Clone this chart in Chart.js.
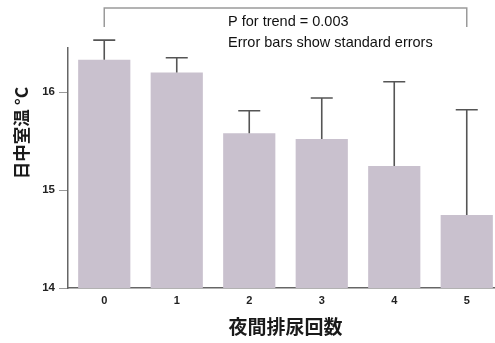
<!DOCTYPE html>
<html>
<head>
<meta charset="utf-8">
<script src="https://cdn.jsdelivr.net/npm/chart.js@4.4.1/dist/chart.umd.min.js"></script>
<style>
  html, body { margin: 0; padding: 0; background: #fff; overflow: hidden; }
  #wrap { width: 495px; height: 343px; overflow: hidden; }
  canvas { display: block; }
</style>
</head>
<body>
<div id="wrap"><canvas id="c" width="506" height="343"></canvas></div>
<script>
// Nocturia episodes vs. daytime room temperature
const categories = ['0', '1', '2', '3', '4', '5'];
const meanTemp   = [16.33, 16.20, 15.58, 15.52, 15.245, 14.745];
const stdError   = [0.20, 0.15, 0.23, 0.42, 0.86, 1.075];
const yTicks     = [14, 15, 16];
const trendText  = 'P for trend = 0.003';
const noteText   = 'Error bars show standard errors';
const yTitle     = '日中室温 °C';
const xTitle     = '夜間排尿回数';

// One-sided (upper) standard error whiskers
const errorBars = {
  id: 'errorBars',
  afterDatasetsDraw(chart) {
    const { ctx, scales: { y } } = chart;
    const meta = chart.getDatasetMeta(0);
    ctx.save();
    ctx.strokeStyle = '#555';
    ctx.lineWidth = 1.6;
    meta.data.forEach((bar, i) => {
      const top = y.getPixelForValue(meanTemp[i] + stdError[i]);
      const base = y.getPixelForValue(meanTemp[i]);
      ctx.beginPath();
      ctx.moveTo(bar.x, base);
      ctx.lineTo(bar.x, top);
      ctx.moveTo(bar.x - 11, top);
      ctx.lineTo(bar.x + 11, top);
      ctx.stroke();
    });
    ctx.restore();
  }
};

// Trend bracket, notes and the rotated y-axis title
const annotations = {
  id: 'annotations',
  afterDraw(chart) {
    const { ctx, scales: { x } } = chart;
    const x0 = x.getPixelForValue(0);
    const x5 = x.getPixelForValue(categories.length - 1);
    ctx.save();
    ctx.strokeStyle = '#9a9a9a';
    ctx.lineWidth = 1.5;
    ctx.beginPath();
    ctx.moveTo(x0, 27);
    ctx.lineTo(x0, 8);
    ctx.lineTo(x5, 8);
    ctx.lineTo(x5, 27);
    ctx.stroke();

    ctx.fillStyle = '#111';
    ctx.font = '14.5px "Liberation Sans", Arial, sans-serif';
    ctx.textAlign = 'left';
    ctx.textBaseline = 'alphabetic';
    ctx.fillText(trendText, 228, 26);
    ctx.fillText(noteText, 228, 47);

    ctx.translate(21, 133);
    ctx.rotate(-Math.PI / 2);
    ctx.font = 'bold 17.5px "Noto Sans CJK JP", sans-serif';
    ctx.textAlign = 'center';
    ctx.textBaseline = 'middle';
    ctx.fillStyle = '#1a1a1a';
    ctx.fillText(yTitle, 0, 0);
    ctx.restore();
  }
};

new Chart(document.getElementById('c'), {
  type: 'bar',
  data: {
    labels: categories,
    datasets: [{
      data: meanTemp,
      backgroundColor: 'rgb(201,193,206)',
      borderWidth: 0,
      categoryPercentage: 1,
      barPercentage: 0.72
    }]
  },
  options: {
    responsive: false,
    animation: false,
    layout: { padding: { top: 48, right: 3, left: 0, bottom: 0 } },
    plugins: { legend: { display: false }, tooltip: { enabled: false } },
    scales: {
      x: {
        grid: { display: false, drawTicks: false },
        border: { display: true, color: '#666', width: 1.5 },
        ticks: { color: '#222', font: { size: 11, weight: 'bold', family: '"Liberation Sans", Arial' }, padding: 6 },
        title: {
          display: true,
          text: xTitle,
          color: '#1a1a1a',
          font: { size: 19, weight: 'bold', family: '"Noto Sans CJK JP", sans-serif' },
          padding: { top: 0, bottom: 5 }
        },
        afterFit(scale) { scale.height = 55; }
      },
      y: {
        min: 14,
        max: 16.45,
        grid: { drawOnChartArea: false, drawTicks: true, tickLength: 9, color: '#999', lineWidth: 1 },
        border: { display: true, color: '#666', width: 1.5 },
        ticks: {
          stepSize: 1,
          includeBounds: false,
          color: '#222',
          padding: 4,
          font: { size: 11.5, weight: 'bold', family: '"Liberation Sans", Arial' },
          callback: (v) => yTicks.includes(v) ? String(v) : ''
        },
        afterFit(scale) { scale.width = 68; }
      }
    }
  },
  plugins: [errorBars, annotations]
});
</script>
</body>
</html>
